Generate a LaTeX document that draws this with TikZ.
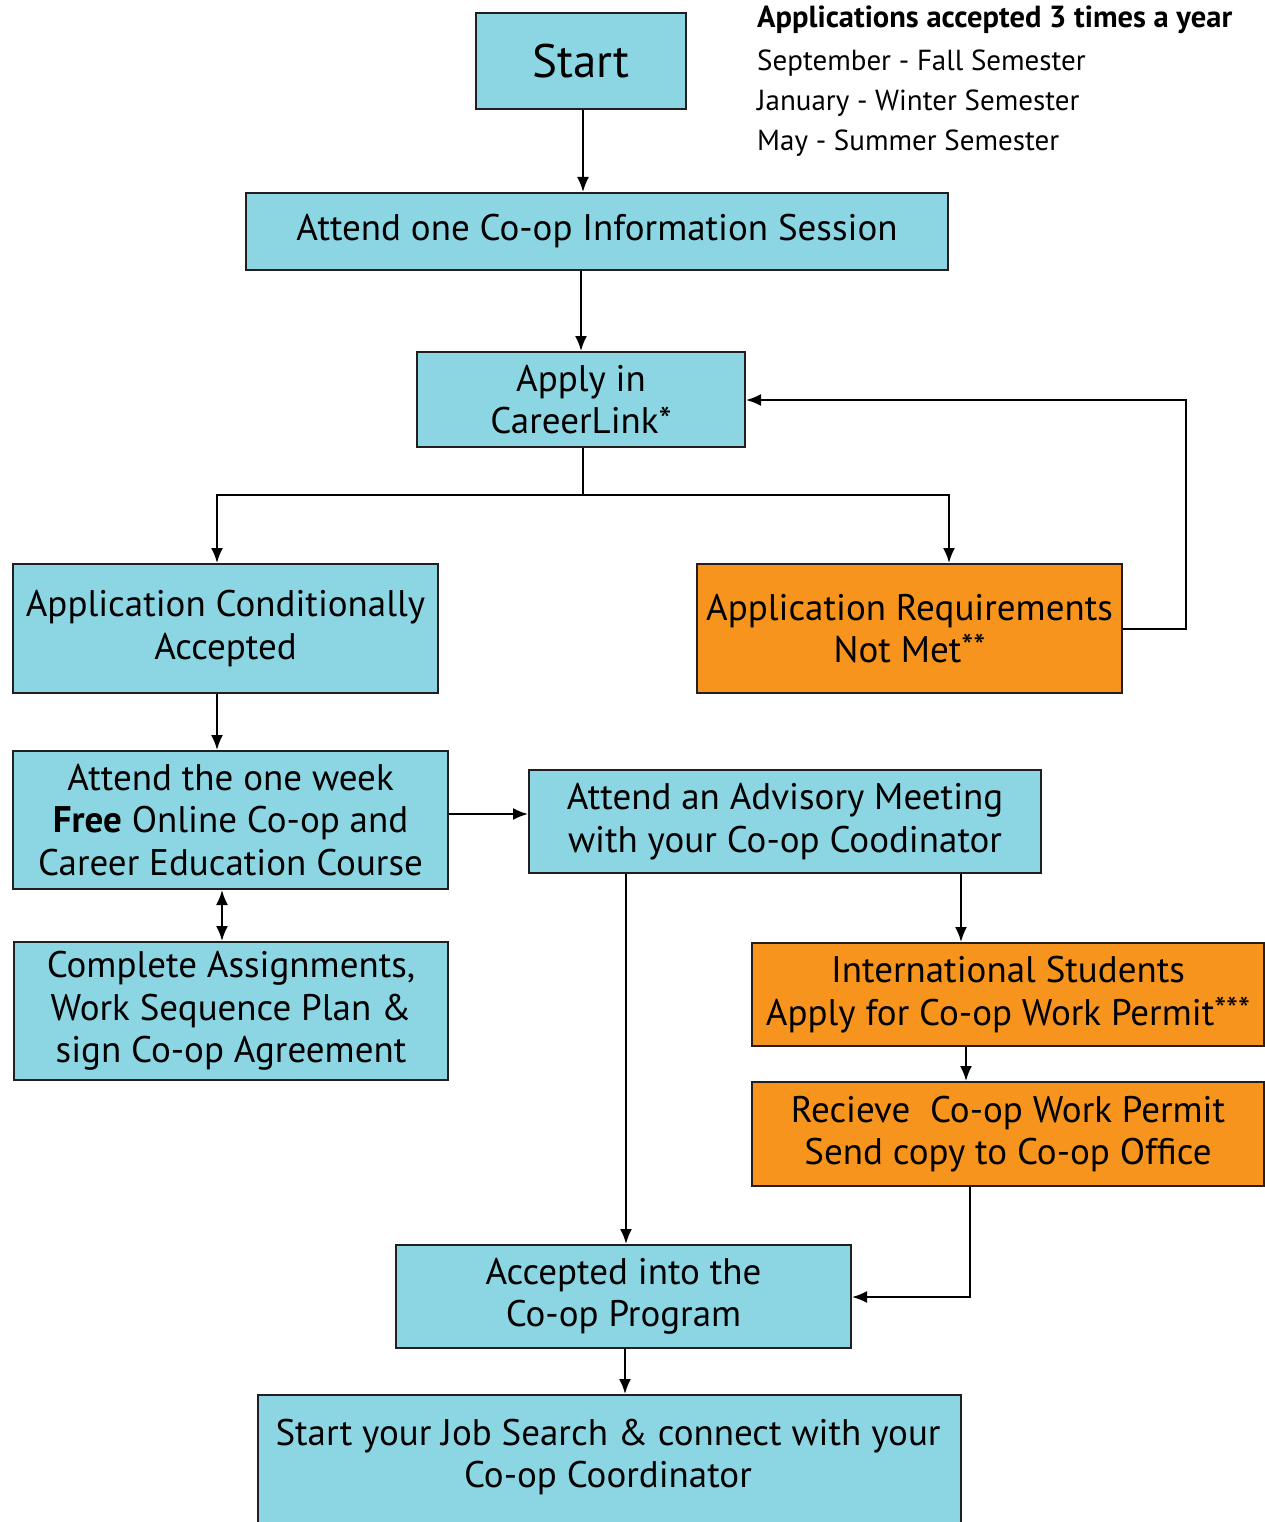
\documentclass[tikz,border=0pt]{standalone}
\usepackage{fontspec}
\setmainfont{PT Sans}
\usetikzlibrary{arrows.meta}
\definecolor{cyanbox}{HTML}{8CD6E4}
\definecolor{orangebox}{HTML}{F7941E}
\definecolor{edge}{HTML}{231F20}
\newcommand{\supstar}[1]{\raisebox{0.1em}{\fontsize{34}{34}\selectfont #1}}
\begin{document}
\begin{tikzpicture}[x=1pt,y=-1pt,
  box/.style={draw=edge,line width=2pt,fill=cyanbox,anchor=north west,inner sep=0pt,align=center,
    font=\fontsize{37}{42.5}\selectfont},
  obox/.style={box,fill=orangebox},
  conn/.style={draw=black,line width=2pt,-{Latex[length=15pt,width=12pt]}},
  plain/.style={draw=black,line width=2pt},
  note/.style={anchor=west,inner sep=0pt,font=\fontsize{29}{32}\selectfont}]
\useasboundingbox (0,0) rectangle (1265,1522);
\fill[white] (0,0) rectangle (1265,1522);

\node[box,minimum width=210pt,minimum height=96pt,font=\fontsize{47}{50}\selectfont] (start) at (475,12) {Start};
\node[box,minimum width=702pt,minimum height=77pt] (info) at (245,192) {Attend one Co-op Information Session};
\node[box,minimum width=328pt,minimum height=95pt] (apply) at (416,351) {Apply in\\CareerLink*};
\node[box,minimum width=425pt,minimum height=129pt] (cond) at (12,563) {Application Conditionally\\Accepted};
\node[obox,minimum width=425pt,minimum height=129pt] (notmet) at (696,563) {Application Requirements\\Not Met\supstar{**}};
\node[box,minimum width=435pt,minimum height=138pt] (course) at (12,750) {Attend the one week\\\textbf{Free} Online Co-op and\\Career Education Course};
\node[box,minimum width=434pt,minimum height=138pt] (complete) at (13,941) {Complete Assignments,\\Work Sequence Plan \&\\sign Co-op Agreement};
\node[box,minimum width=512pt,minimum height=103pt] (advisory) at (528,769) {Attend an Advisory Meeting\\with your Co-op Coodinator};
\node[obox,minimum width=512pt,minimum height=103pt] (intl) at (751,942) {International Students\\Apply for Co-op Work Permit\supstar{***}};
\node[obox,minimum width=512pt,minimum height=104pt] (receive) at (751,1081) {Recieve\ \ Co-op Work Permit\\Send copy to Co-op Office};
\node[box,minimum width=455pt,minimum height=103pt] (accepted) at (395,1244) {Accepted into the\\Co-op Program};
\node[box,minimum width=703pt,minimum height=150pt] (job) at (257,1394) {};
\node[anchor=center,align=center,inner sep=0pt,font=\fontsize{37}{42.5}\selectfont] (jobtext) at (608,1457) {Start your Job Search \& connect with your\\Co-op Coordinator};

\node[note,font=\fontsize{30.5}{32}\selectfont\bfseries] (n0) at (757,20) {Applications accepted 3 times a year};
\node[note] (n1) at (757,63) {September - Fall Semester};
\node[note] (n2) at (757,103) {January - Winter Semester};
\node[note] (n3) at (757,143) {May - Summer Semester};

\coordinate (split) at (583,495);
\coordinate (loopA) at (1186,629);
\coordinate (loopB) at (1186,400);
\coordinate (rcv) at (970,1297);

\draw[conn] (start.south -| 583,0) -- (info.north -| 583,0);
\draw[conn] (info.south -| 581,0) -- (apply.north -| 581,0);
\draw[plain] (apply.south -| split) -- (split);
\draw[conn] (split) -| (cond.north -| 217,0);
\draw[conn] (split) -| (notmet.north -| 949,0);
\draw[conn] (notmet.east |- loopA) -- (loopA) -- (loopB) -- (apply.east |- loopB);
\draw[conn] (cond.south -| 217,0) -- (course.north -| 217,0);
\draw[line width=2pt,{Latex[length=15pt,width=12pt]}-{Latex[length=15pt,width=12pt]}] (course.south -| 222,0) -- (complete.north -| 222,0);
\draw[conn] (course.east |- 0,814) -- (advisory.west |- 0,814);
\draw[conn] (advisory.south -| 626,0) -- (accepted.north -| 626,0);
\draw[conn] (advisory.south -| 961,0) -- (intl.north -| 961,0);
\draw[conn] (intl.south -| 966,0) -- (receive.north -| 966,0);
\draw[conn] (receive.south -| rcv) -- (rcv) -- (accepted.east |- rcv);
\draw[conn] (accepted.south -| 625,0) -- (job.north -| 625,0);
\end{tikzpicture}
\end{document}
